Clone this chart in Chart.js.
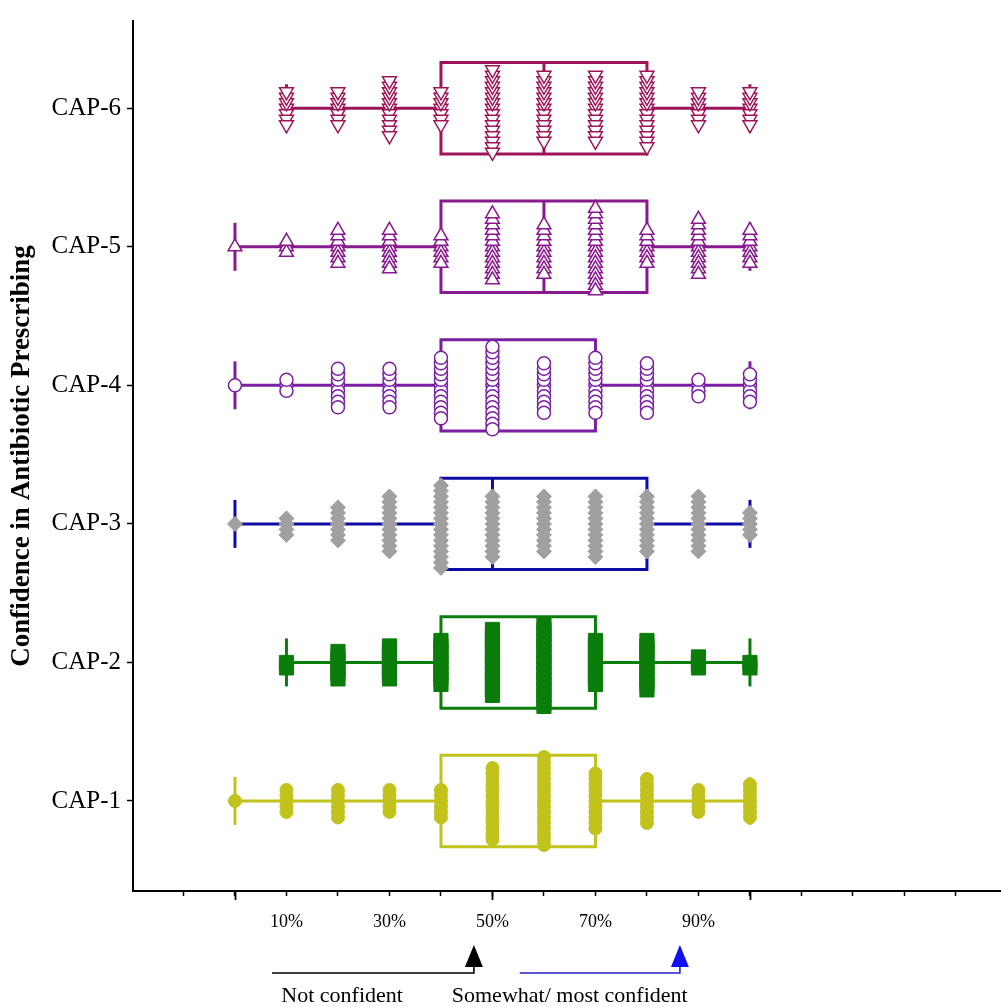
<!DOCTYPE html>
<html>
<head>
<meta charset="utf-8">
<script src="https://cdn.jsdelivr.net/npm/chart.js@4.4.1/dist/chart.umd.min.js"></script>
<style>
  html, body { margin: 0; padding: 0; background: #fff; overflow: hidden; }
  #wrap { width: 1001px; height: 1007px; }
</style>
</head>
<body>
<div id="wrap"><canvas id="c" width="1001" height="1007"></canvas></div>
<script>
// ---------- DATA ----------
const categories = ['CAP-1', 'CAP-2', 'CAP-3', 'CAP-4', 'CAP-5', 'CAP-6'];
const responseValues = [0, 10, 20, 30, 40, 50, 60, 70, 80, 90, 100];

// number of respondents at each response value (read from column heights)
const countsCAP1 = [1, 5, 6, 5, 6, 14, 17, 11, 9, 5, 7];
const countsCAP2 = [0, 2, 6, 7, 9, 13, 16, 9, 10, 3, 2];
const countsCAP3 = [1, 4, 7, 11, 16, 12, 11, 12, 11, 11, 5];
const countsCAP4 = [1, 3, 8, 8, 12, 16, 10, 11, 10, 4, 6];
const countsCAP5 = [1, 3, 7, 8, 6, 13, 10, 16, 7, 11, 7];
const countsCAP6 = [0, 7, 7, 11, 7, 16, 13, 13, 14, 7, 7];

// box plot statistics (CAP-1 .. CAP-6)
const whiskerMin = [0, 10, 0, 0, 0, 10];
const quartile1  = [40, 40, 40, 40, 40, 40];
const medians    = [60, 60, 50, 50, 60, 60];
const quartile3  = [70, 70, 80, 70, 80, 80];
const whiskerMax = [100, 100, 100, 100, 100, 100];

// x axis ticks / labels
const xTickValues = [-10, 0, 10, 20, 30, 40, 50, 60, 70, 80, 90, 100, 110, 120, 130, 140];
const xMajorTicks = [0, 50, 100];
const tickLabelValues = [10, 30, 50, 70, 90];
const tickLabels = ['10%', '30%', '50%', '70%', '90%'];

// ---------- STYLE ----------
const allCounts = [countsCAP1, countsCAP2, countsCAP3, countsCAP4, countsCAP5, countsCAP6];
const boxColors = ['#C2C21C', '#0B7D0B', '#0D0DA6', '#7B1FA2', '#881A8E', '#9E1458'];
const markers = [
  { pointStyle: 'circle',   radius: 6.5, bg: '#C2C21C', border: '#C2C21C', bw: 1,   rot: 0 },
  { pointStyle: 'rect',     radius: 10,  bg: '#0B7D0B', border: '#0B7D0B', bw: 1,   rot: 0 },
  { pointStyle: 'rectRot',  radius: 7.5, bg: '#A0A0A0', border: '#A0A0A0', bw: 1,   rot: 0 },
  { pointStyle: 'circle',   radius: 6.5, bg: '#FFFFFF', border: '#7B1FA2', bw: 1.5, rot: 0 },
  { pointStyle: 'triangle', radius: 8,   bg: '#FFFFFF', border: '#881A8E', bw: 1.5, rot: 0 },
  { pointStyle: 'triangle', radius: 8,   bg: '#FFFFFF', border: '#9E1458', bw: 1.5, rot: 180 }
];
const BOX_HALF = 0.33;      // half box height, in category units
const STACK_STEP = 0.0397;  // vertical spacing between stacked points (~5.5px)
const LINE_W = 3;
const SERIF = '"Liberation Serif", "Times New Roman", serif';

// ---------- DATASETS ----------
const datasets = [];
categories.forEach((cat, i) => {
  const y = i + 1;
  const col = boxColors[i];
  const lineDs = (data, extra) => Object.assign({
    type: 'scatter', data, showLine: true, borderColor: col, borderWidth: LINE_W,
    pointRadius: 0, fill: false, tension: 0, order: 1,
    borderJoinStyle: 'miter', borderCapStyle: 'butt'
  }, extra || {});
  // box
  datasets.push(lineDs([
    { x: quartile1[i], y: y - BOX_HALF }, { x: quartile3[i], y: y - BOX_HALF },
    { x: quartile3[i], y: y + BOX_HALF }, { x: quartile1[i], y: y + BOX_HALF },
    { x: quartile1[i], y: y - BOX_HALF }
  ], { borderCapStyle: 'square' }));
  // median
  datasets.push(lineDs([{ x: medians[i], y: y - BOX_HALF }, { x: medians[i], y: y + BOX_HALF }]));
  // whiskers
  datasets.push(lineDs([{ x: whiskerMin[i], y }, { x: quartile1[i], y }]));
  datasets.push(lineDs([{ x: quartile3[i], y }, { x: whiskerMax[i], y }]));
  // whisker caps
  datasets.push({
    type: 'scatter', data: [{ x: whiskerMin[i], y }, { x: whiskerMax[i], y }],
    pointStyle: 'line', rotation: 90, pointRadius: 24, borderColor: col,
    pointBorderColor: col, pointBorderWidth: LINE_W, showLine: false, order: 1
  });
  // individual responses, stacked vertically at each value
  const pts = [];
  allCounts[i].forEach((n, j) => {
    for (let k = 0; k < n; k++) {
      const off = (k % 2 === 0 ? 1 : -1) * Math.ceil(k / 2) * STACK_STEP;
      pts.push({ x: responseValues[j], y: y + off });
    }
  });
  const m = markers[i];
  datasets.push({
    type: 'scatter', data: pts, pointStyle: m.pointStyle, pointRadius: m.radius,
    pointRotation: m.rot, pointBackgroundColor: m.bg, pointBorderColor: m.border,
    pointBorderWidth: m.bw, showLine: false, order: 0
  });
});

// ---------- PLUGINS ----------
const majorTickPlugin = {
  id: 'majorTicks',
  afterDraw(chart) {
    const { ctx, scales: { x }, chartArea } = chart;
    ctx.save();
    ctx.strokeStyle = '#000';
    ctx.lineWidth = 1.8;
    xMajorTicks.forEach(v => {
      const px = Math.round(x.getPixelForValue(v)) + 0.5;
      ctx.beginPath();
      ctx.moveTo(px, chartArea.bottom);
      ctx.lineTo(px, chartArea.bottom + 9);
      ctx.stroke();
    });
    ctx.restore();
  }
};

// bottom annotation: arrows and captions (positions in x-axis units)
const annotations = [
  { from: 7.2, to: 46.4, color: '#000000', line: '#000000' },
  { from: 55.3, to: 86.4, color: '#1010F0', line: '#2424C8' }
];
const captions = [
  { text: 'Not confident', at: 20.8 },
  { text: 'Somewhat/ most confident', at: 65.0 }
];
const annotationPlugin = {
  id: 'bottomAnnotations',
  afterDraw(chart) {
    const { ctx, scales: { x }, chartArea } = chart;
    const b = chartArea.bottom;
    ctx.save();
    annotations.forEach(a => {
      const x0 = x.getPixelForValue(a.from), x1 = x.getPixelForValue(a.to);
      const lineY = b + 82;
      ctx.strokeStyle = a.line;
      ctx.lineWidth = 1.6;
      ctx.beginPath();
      ctx.moveTo(x0, lineY);
      ctx.lineTo(x1, lineY);
      ctx.lineTo(x1, b + 74);
      ctx.stroke();
      ctx.fillStyle = a.color;
      ctx.beginPath();
      ctx.moveTo(x1, b + 54);
      ctx.lineTo(x1 + 9, b + 76);
      ctx.lineTo(x1 - 9, b + 76);
      ctx.closePath();
      ctx.fill();
    });
    ctx.fillStyle = '#000';
    ctx.font = '22px ' + SERIF;
    ctx.textAlign = 'center';
    ctx.textBaseline = 'alphabetic';
    captions.forEach(c => ctx.fillText(c.text, x.getPixelForValue(c.at), b + 111));
    ctx.restore();
  }
};

// ---------- CHART ----------
new Chart(document.getElementById('c'), {
  type: 'scatter',
  data: { datasets },
  options: {
    responsive: false,
    animation: false,
    events: [],
    devicePixelRatio: 1,
    layout: { autoPadding: false, padding: { top: 20, right: 0, bottom: 0, left: 0 } },
    plugins: { legend: { display: false }, tooltip: { enabled: false } },
    scales: {
      x: {
        type: 'linear', min: -19.8, max: 148.75,
        afterBuildTicks: s => { s.ticks = xTickValues.map(v => ({ value: v })); },
        afterFit: s => { s.height = 116; },
        ticks: {
          autoSkip: false, maxRotation: 0, minRotation: 0, padding: 15, color: '#000',
          font: { family: SERIF, size: 18 },
          callback: v => { const k = tickLabelValues.indexOf(Math.round(v)); return k >= 0 ? tickLabels[k] : ''; }
        },
        grid: { drawOnChartArea: false, drawTicks: true, tickLength: 5, color: '#000', tickWidth: 1.5 },
        border: { display: true, color: '#000', width: 2 }
      },
      y: {
        type: 'linear', min: 0.35, max: 6.63,
        afterBuildTicks: s => { s.ticks = categories.map((c, i) => ({ value: i + 1 })); },
        afterFit: s => { s.width = 133; },
        ticks: {
          autoSkip: false, padding: 6, color: '#000',
          font: { family: SERIF, size: 25 },
          callback: v => categories[Math.round(v) - 1] || ''
        },
        grid: { drawOnChartArea: false, drawTicks: true, tickLength: 6, color: '#000', tickWidth: 1.5 },
        border: { display: true, color: '#000', width: 2 },
        title: {
          display: true, text: 'Confidence in Antibiotic Prescribing', color: '#000',
          font: { family: SERIF, size: 27, weight: 'bold' },
          padding: { top: 6, bottom: 0 }
        }
      }
    }
  },
  plugins: [majorTickPlugin, annotationPlugin]
});
</script>
</body>
</html>
